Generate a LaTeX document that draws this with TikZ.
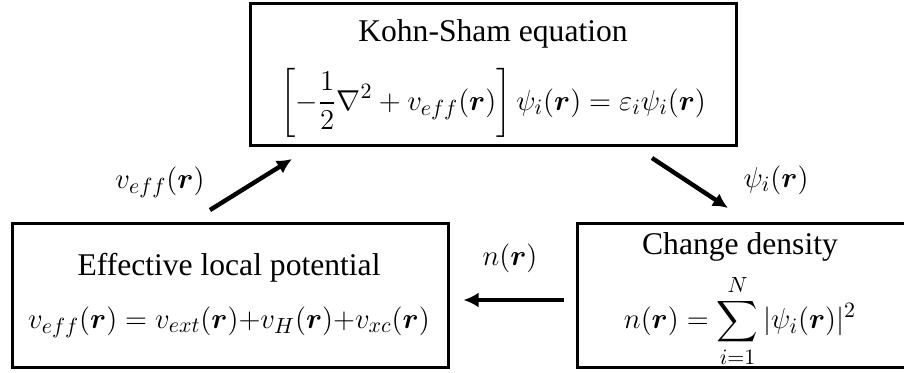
\documentclass[tikz,border=0pt]{standalone}
\usepackage{fontspec}
\setmainfont{Liberation Serif}
\usepackage{amsmath}
\usepackage{bm}
\usetikzlibrary{calc,arrows.meta}

\tikzset{
  stagebox/.style={draw,line width=1.5pt,inner sep=0pt},
  flow/.style={-{Latex[length=7.5pt,width=7.5pt]},line width=2.2pt},
  eqtext/.style={inner sep=0pt,font=\fontsize{15.8}{19}\selectfont}
}

\begin{document}
\begin{tikzpicture}[x=0.5pt,y=-0.5pt,line cap=butt,line join=miter]
        \useasboundingbox (0,0) rectangle (904,372);

        % three stages of the self-consistent loop
        \node[stagebox,minimum width=243pt,minimum height=71pt] (kohn) at (493,74) {};
        \node[stagebox,minimum width=218pt,minimum height=72pt] (potential) at (230,295) {};
        \node[stagebox,minimum width=165pt,minimum height=72pt] (density) at (742,295) {};

        \node[eqtext] (kohnTitle) at (493,34) {Kohn-Sham equation};
        \node[eqtext] (kohnEq) at (493,103)
            {$\displaystyle\left[-\frac{1}{2}\nabla^2+v_{eff}(\bm{r})\right]\psi_i(\bm{r})=\varepsilon_i\psi_i(\bm{r})$};

        \node[eqtext] (potentialTitle) at (229,268) {Effective local potential};
        \node[eqtext] (potentialEq) at (229,322)
            {$v_{eff}(\bm{r})=v_{ext}(\bm{r}){+}v_H(\bm{r}){+}v_{xc}(\bm{r})$};

        \node[eqtext] (densityTitle) at (740,247) {Change density};
        \node[eqtext] (densityEq) at (740,321)
            {$\displaystyle n(\bm{r})=\sum_{i=1}^{N}|\psi_i(\bm{r})|^2$};

        % arrow ends, kept clear of the boxes
        \coordinate (potOut) at (210,210);
        \coordinate (kohnIn) at (292,159);
        \coordinate (kohnOut) at (652,158);
        \coordinate (densIn) at (728,208);

        \draw[flow] (potOut) -- (kohnIn);
        \draw[flow] (kohnOut) -- (densIn);
        \draw[flow] ($(density.west)+(-12,5)$) -- ($(potential.east)+(14,5)$);

        \node[eqtext] (veffLabel) at (160,182) {$v_{eff}(\bm{r})$};
        \node[eqtext] (psiLabel) at (776,180) {$\psi_i(\bm{r})$};
        \node[eqtext] (nLabel) at (510,258) {$n(\bm{r})$};
    \end{tikzpicture}
\end{document}
